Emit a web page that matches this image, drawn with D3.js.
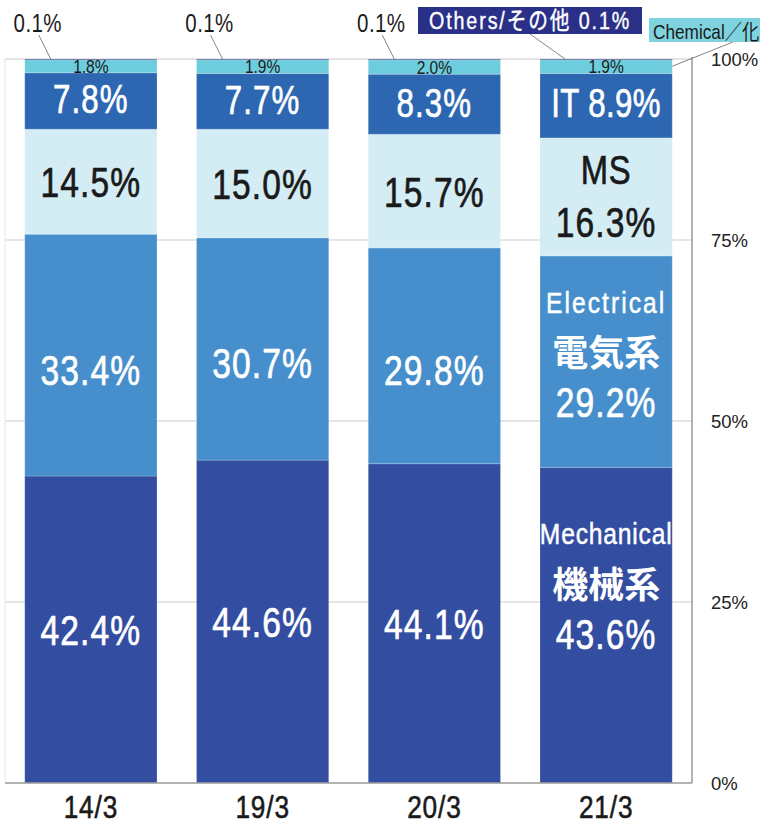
<!DOCTYPE html>
<meta charset="utf-8">
<script src="https://d3js.org/d3.v7.min.js"></script>
<style>
  body { margin: 0; background: #fff; }
  text { font-family: "Liberation Sans", Arial, "Noto Sans CJK JP", sans-serif; }
</style>
<div id="chart"></div>
<script>

// data (shares in %)
var categories = ["14/3", "19/3", "20/3", "21/3"];
var mechanical = [42.4, 44.6, 44.1, 43.6];
var electrical = [33.4, 30.7, 29.8, 29.2];
var ms = [14.5, 15.0, 15.7, 16.3];
var it = [7.8, 7.7, 8.3, 8.9];
var chemical = [1.8, 1.9, 2.0, 1.9];
var others = [0.1, 0.1, 0.1, 0.1];
var yTicks = [0, 25, 50, 75, 100];

var series = [
  {key: "mech", values: mechanical, color: "#334ea1", text: "#fff"},
  {key: "elec", values: electrical, color: "#478fcc", text: "#fff"},
  {key: "ms", values: ms, color: "#d4edf5", text: "#1a1a1a"},
  {key: "it", values: it, color: "#2d66b1", text: "#fff"},
  {key: "chem", values: chemical, color: "#6ecddc", text: "#1a1a1a"},
  {key: "oth", values: others, color: "#2a3088", text: "#fff"}
];

var width = 760, height = 826;
var svg = d3.select("#chart").append("svg")
  .attr("width", width)
  .attr("height", height);

var x = d3.scaleBand()
  .domain(categories)
  .range([5, 692])
  .paddingInner(0.23)
  .paddingOuter(0.115);

var y = d3.scaleLinear()
  .domain([0, 100])
  .range([783, 59]);

// narrow text: regular sans squeezed horizontally (no narrow font installed)
function ntext(g, px, py, str, size, color, opts) {
  opts = opts || {};
  var sx = opts.sx || 0.8;
  var t = g.append("text")
    .attr("transform", "translate(" + px + "," + py + ") scale(" + sx + ",1)")
    .attr("text-anchor", opts.anchor || "middle")
    .attr("font-size", size)
    .attr("font-weight", opts.bold ? "bold" : "normal")
    .attr("letter-spacing", opts.ls || 0)
    .attr("fill", color)
    .style("font-family", opts.cjk ? "'Noto Sans CJK JP', sans-serif" : null)
    .text(str);
  if (opts.heavy) {
    t.attr("stroke", color).attr("stroke-width", opts.heavy);
  }
  return t;
}

// grid + frame
svg.append("g").selectAll("line")
  .data(yTicks.filter(function(d) { return d > 0; }))
  .enter().append("line")
    .attr("x1", 5).attr("x2", 692)
    .attr("y1", function(d) { return y(d); })
    .attr("y2", function(d) { return y(d); })
    .attr("stroke", "#dcdcdc")
    .attr("stroke-width", 1.5);
svg.append("line")
  .attr("x1", 5).attr("x2", 5)
  .attr("y1", y(100)).attr("y2", y(0))
  .attr("stroke", "#e6e6e6");

// stack
var rows = categories.map(function(c, i) {
  var r = {cat: c};
  series.forEach(function(s) { r[s.key] = s.values[i]; });
  return r;
});
var stack = d3.stack().keys(series.map(function(s) { return s.key; }));
var layers = stack(rows);

svg.append("g").selectAll("g")
  .data(layers)
  .enter().append("g")
    .attr("fill", function(d, i) { return series[i].color; })
  .selectAll("rect")
  .data(function(d) { return d; })
  .enter().append("rect")
    .attr("x", function(d) { return x(d.data.cat); })
    .attr("width", x.bandwidth())
    .attr("y", function(d) { return y(d[1]); })
    .attr("height", function(d) { return y(d[0]) - y(d[1]); })
    .attr("stroke", "#fff")
    .attr("stroke-opacity", 0.2)
    .attr("stroke-width", 1);

// axes lines
svg.append("line")
  .attr("x1", 692).attr("x2", 692)
  .attr("y1", y(100) - 2).attr("y2", y(0))
  .attr("stroke", "#9a9a9a").attr("stroke-width", 1.5);
svg.append("line")
  .attr("x1", 5).attr("x2", 692)
  .attr("y1", y(0)).attr("y2", y(0))
  .attr("stroke", "#9a9a9a").attr("stroke-width", 1.5);

// right tick labels
svg.append("g").selectAll("text")
  .data(yTicks)
  .enter().append("text")
    .attr("x", 711)
    .attr("y", function(d) { return y(d) + 7; })
    .attr("font-size", 18.5)
    .attr("fill", "#222")
    .text(function(d) { return d + "%"; });

// category labels
var catG = svg.append("g");
categories.forEach(function(c) {
  ntext(catG, x(c) + x.bandwidth() / 2, 818, c, 32, "#1a1a1a", {sx: 0.82, ls: 1, heavy: 0.6});
});

// segment value labels (y given as the text's visual centre)
var lab = svg.append("g");
function addText(cx, cy, str, size, color, opts) {
  return ntext(lab, cx, cy + size * 0.36, str, size, color, opts);
}

var singleOffset = {mech: 0, elec: 14, ms: 0, it: -2, chem: 0};
var sizes = {mech: 43, elec: 43, ms: 43, it: 40, chem: 19};
layers.forEach(function(layer, li) {
  var s = series[li];
  if (s.key === "oth") return;
  layer.forEach(function(d, i) {
    var cx = x(d.data.cat) + x.bandwidth() / 2;
    var mid = y((d[0] + d[1]) / 2);
    var v = s.values[i].toFixed(1) + "%";
    var big = {sx: 0.78, ls: 1.5, heavy: 0.7};
    if (s.key === "chem") {
      addText(cx, mid, v, 19, s.text, {sx: 0.82});
    } else if (i < 3) {
      addText(cx, mid + singleOffset[s.key], v, sizes[s.key], s.text, big);
    } else if (s.key === "mech") {
      addText(cx, mid - 92, "Mechanical", 30, s.text, {sx: 0.82, ls: 1, heavy: 0.5});
      addText(cx, mid - 40, "機械系", 36, s.text, {sx: 1, bold: true, cjk: true});
      addText(cx, mid + 8, v, 43, s.text, big);
    } else if (s.key === "elec") {
      addText(cx, mid - 59, "Electrical", 30, s.text, {sx: 0.82, ls: 2.5, heavy: 0.5});
      addText(cx, mid - 9, "電気系", 36, s.text, {sx: 1, bold: true, cjk: true});
      addText(cx, mid + 40, v, 43, s.text, big);
    } else if (s.key === "ms") {
      addText(cx, mid - 27, "MS", 40, s.text, {sx: 0.82, ls: 1, heavy: 0.7});
      addText(cx, mid + 25, v, 43, s.text, big);
    } else if (s.key === "it") {
      addText(cx, mid - 3, "IT  " + v, 40, s.text, {sx: 0.78, ls: 0.5, heavy: 0.7});
    }
  });
});

// "others" callouts
var call = svg.append("g");
categories.forEach(function(c, i) {
  var bx = x(c);
  var v = others[i].toFixed(1) + "%";
  if (i < 3) {
    call.append("line")
      .attr("x1", bx + 14).attr("y1", 35)
      .attr("x2", bx + 26).attr("y2", y(100))
      .attr("stroke", "#666").attr("stroke-width", 0.8);
    ntext(call, bx + 13, 32, v, 25, "#1a1a1a", {sx: 0.82, ls: 0.5});
  } else {
    call.append("line")
      .attr("x1", bx - 10).attr("y1", 34)
      .attr("x2", bx + 25).attr("y2", y(100))
      .attr("stroke", "#666").attr("stroke-width", 0.8);
    call.append("rect")
      .attr("x", 418).attr("y", 7).attr("width", 224).attr("height", 27)
      .attr("fill", "#2a3088");
    ntext(call, 429, 29, "Others/その他  " + v, 24, "#fff", {sx: 0.82, ls: 2.3, anchor: "start", heavy: 0.4});

    // chemical callout (clipped at the right edge, as in the original)
    call.append("line")
      .attr("x1", bx + x.bandwidth()).attr("y1", y(99))
      .attr("x2", 733).attr("y2", 42)
      .attr("stroke", "#666").attr("stroke-width", 0.8);
    call.append("rect")
      .attr("x", 649).attr("y", 18).attr("width", 120).attr("height", 24)
      .attr("fill", "#7fd3df");
    ntext(call, 653, 39, "Chemical／化学系 " + chemical[i].toFixed(1) + "%", 21, "#1a1a1a",
      {sx: 0.82, anchor: "start"});
  }
});

</script>
